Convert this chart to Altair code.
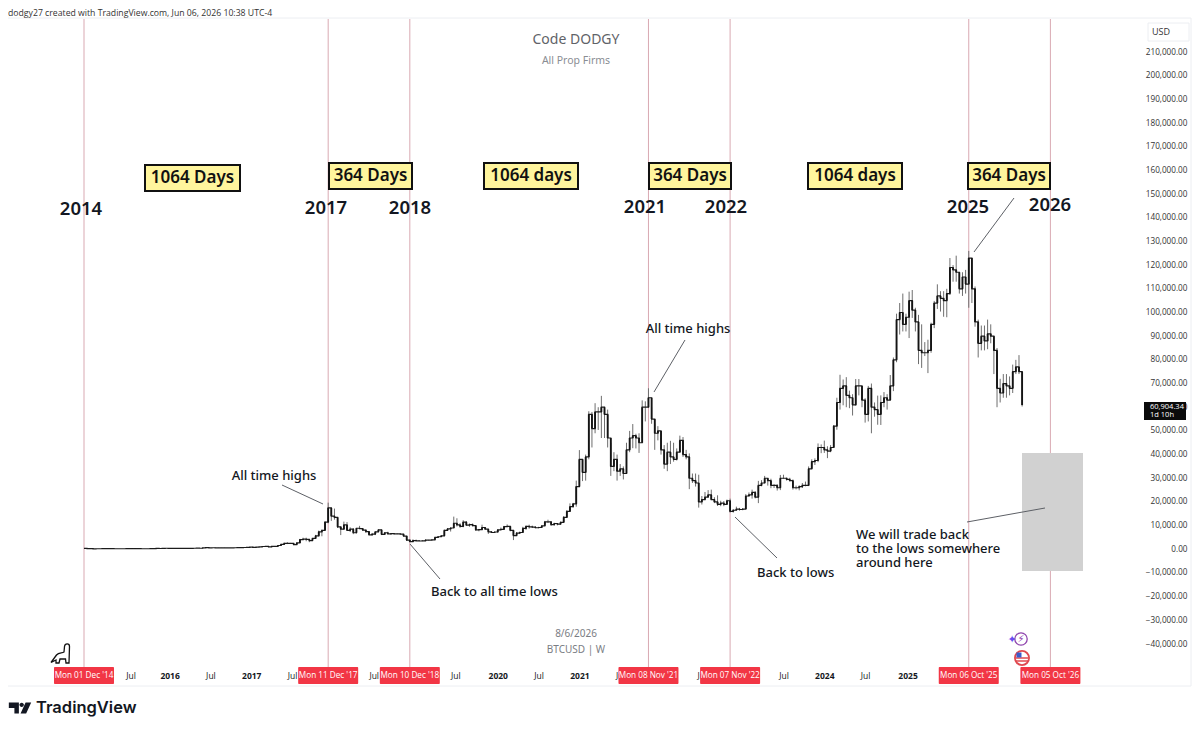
import altair as alt
import pandas as pd

FONT = "Noto Sans"

# Bi-weekly candles, thousand USD
CLOSE = [
 .37,.32,.31,.21,.23,.24,.27,.28,.25,.25,.23,.24,.24,.23,.25,.26,.29,.28,.26,.23,.23,.23,.25,.28,.38,.33,.36,.45,.43,
 .38,.39,.40,.43,.41,.42,.42,.45,.46,.44,.58,.68,.64,.66,.60,.58,.58,.60,.60,.61,.65,.70,.73,.76,.78,.95,
 .82,.92,1.0,1.18,1.2,1.0,1.2,1.25,1.6,2.1,2.5,2.5,2.5,2.0,2.7,4.1,4.3,4.2,3.7,4.6,5.7,7.4,8.0,11.5,17.5,14.0,
 13.5,9.5,8.5,10.3,8.0,8.5,7.0,8.9,8.7,8.1,7.5,6.1,6.4,7.4,8.2,6.3,7.0,6.5,6.6,6.5,6.5,6.4,5.6,3.9,3.2,3.7,
 3.6,3.5,3.6,3.9,3.9,4.0,5.0,5.3,5.7,8.0,8.6,9.0,11.0,10.3,9.7,11.5,10.2,10.4,10.0,8.2,8.3,9.2,8.5,7.4,7.1,7.3,
 8.2,8.4,9.6,9.7,8.0,5.8,6.8,7.1,8.8,9.7,9.5,9.4,9.1,9.2,9.9,11.6,11.6,10.4,10.9,10.6,11.4,13.5,16.0,18.0,19.2,26.5,
 38,32.5,39,57,51,58,58,60,57,47,35,38,33,34,32,42,47,48,47,45,60,60,64,55,49,50,
 42,36,41,39,38,41,46,40,39,30,29,28,20,21,22,23,21,20,19,19.5,19,20.5,16,16.5,17,16.8,
 17,22.5,23,24,22,27,28,30,29,27,27,26,30,30,29.5,29,26,26,26.5,27,27,34,37,37.5,43,43,
 42,41.5,43,52,62,68,69,65,64,61,69,69,63,57,68,60,59,57,62,64,63,69,80,97,100,95,98,
 105,101,96,84,83,83,84,95,104,107,106,105,108,119,118,117,110,115,112,123,110,96,87,90,88,91,
 90,84,68,66,70,69,68,75,77,75,60.904,
]
HIGH = [
 .38,.38,.33,.30,.27,.26,.30,.30,.30,.26,.24,.25,.25,.24,.26,.27,.31,.30,.28,.26,.25,.24,.26,.29,.48,.38,.38,.47,.47,
 .46,.42,.41,.45,.44,.43,.43,.46,.47,.46,.58,.77,.70,.68,.68,.60,.59,.62,.61,.62,.66,.74,.75,.78,.80,.98,
 1.15,.95,1.05,1.2,1.3,1.3,1.25,1.3,1.7,2.3,2.8,3.0,2.7,2.6,2.9,4.4,4.9,4.9,4.2,4.7,6.1,7.9,8.3,11.9,19.7,16.5,
 17.2,13.6,9.5,11.7,11.5,9.3,8.9,9.0,9.9,9.0,8.4,7.7,6.9,7.5,8.5,8.3,7.2,7.4,6.8,6.7,6.7,6.6,6.5,5.7,4.2,4.2,
 4.1,3.7,3.7,4.2,4.0,4.1,5.2,5.6,5.9,8.3,9.0,9.3,13.8,13.1,11.0,12.3,11.9,10.9,10.9,10.1,8.6,10.4,9.4,8.5,7.7,7.5,
 8.5,9.2,9.9,10.5,9.7,8.0,7.3,7.5,9.5,10.0,10.4,10.0,9.7,9.5,10.0,12.0,12.5,11.9,11.2,11.0,11.7,14.0,16.5,19.4,19.6,29.0,
 41.9,38,40,58.3,58,61.7,60,64.8,58,59,45,41,40,36,35,45,50,52.9,48.8,49,62.9,62.5,68,60,53,52,
 47,44,45,45.8,45,42.6,48,47.4,42,40.5,32,32,31.5,22.5,24.2,25,25.2,22,22.8,20.5,20.4,21,21.4,17,18,17.5,
 17.4,23.3,24,25.2,24.5,28.9,29.2,31,30,29.8,27.5,27.4,31.4,31.5,30.3,30.2,29.5,26.9,27,28,28.6,35,38,38.4,44.7,44.3,
 45.9,43.5,44,52.5,64,73.7,71.7,72.7,67,65.5,71.9,71.9,67,63.8,69,70,62,64.9,65,66.4,65.5,73.6,81,99.5,104,108,99.5,
 108.8,109.5,102,99,95,87.5,88.5,95.7,104.9,111.9,109,109,110,123,120,124,114,117,118,126,116,111,97,94.5,94.5,97,
 95,90,85,72,74,74,73,78,80,82,74,
]
LOW = [
 .33,.30,.28,.17,.20,.21,.23,.26,.24,.23,.22,.22,.23,.22,.22,.25,.26,.27,.25,.20,.22,.22,.23,.25,.28,.31,.32,.36,.41,
 .36,.36,.36,.39,.40,.40,.41,.41,.44,.43,.44,.56,.55,.63,.58,.55,.55,.56,.59,.59,.60,.63,.69,.72,.75,.78,
 .75,.78,.9,1.0,1.1,.9,.9,1.15,1.25,1.6,2.0,2.2,2.3,1.8,1.9,2.7,3.9,3.4,3.0,3.7,4.5,5.4,5.5,8.0,11.0,12.0,
 12.5,9.0,6.0,8.3,8.0,7.3,6.4,6.7,8.6,7.9,7.0,6.0,5.8,6.0,7.3,6.0,6.1,6.3,6.1,6.3,6.4,6.3,5.5,3.5,3.1,3.1,
 3.5,3.4,3.4,3.6,3.7,3.8,4.0,5.0,5.2,5.6,7.9,7.5,9.0,9.6,9.1,9.3,9.9,9.5,9.7,7.8,7.6,8.2,8.3,6.5,7.0,6.9,
 6.9,8.2,9.0,9.4,7.6,3.9,5.6,6.5,7.0,8.2,8.7,9.0,8.9,8.9,9.0,10.6,11.1,9.9,10.0,10.1,10.4,11.3,13.2,16.0,17.6,18.0,
 27.7,28.8,29,38,43,49,50.4,47,47,43,31,33,29,31,29.5,33,41,42.7,42.6,40.7,47,54,60,53,42,46,
 40,34,33,36,37,37.5,41,39,38,25.4,28,26.5,17.6,18.9,20.8,22,20.8,19.5,18.3,18.2,18.2,18.8,15.5,15.5,16.7,16.3,
 16.5,17,22.3,21.4,21.5,19.5,26.6,27.8,26.9,25.8,25.9,24.8,25,29.8,29,28.7,25.2,25.3,24.9,25.9,26.6,26.7,34,35.6,36.8,40.6,
 40.7,38.5,41,42.8,50.5,59,60.8,60,59.6,56.5,60.7,65,60,53.5,54,49,56,52.6,52.5,60,59,65,66.8,79,90.7,92,92,
 89.2,97.7,92,78.2,76.6,81.6,74.4,83,93.4,101.5,100.4,98.2,98,107.5,113,113,108,107,108,102,104,94,81,84,84,84.5,
 87,74,60,62,64,64,65,66,74,74,60.3,
]
assert len(CLOSE) == len(HIGH) == len(LOW) == 301

TAG_DATES = ["2014-12-01", "2017-12-11", "2018-12-10", "2021-11-08", "2022-11-07", "2025-10-06", "2026-10-05"]
TAG_LABELS = ["Mon 01 Dec '14", "Mon 11 Dec '17", "Mon 10 Dec '18", "Mon 08 Nov '21",
              "Mon 07 Nov '22", "Mon 06 Oct '25", "Mon 05 Oct '26"]
# Only the ticks the picture shows: the others lie under the red date tags
TICK_DATES = ["2015-07-06", "2016-01-04", "2016-07-04", "2017-01-02", "2017-07-03", "2018-07-02",
              "2019-07-01", "2020-01-06", "2020-07-06", "2021-01-04", "2021-07-05",
              "2022-07-04", "2023-07-03", "2024-01-01", "2024-07-01", "2025-01-06", "2027-07-05"]
PRICE_TICKS = list(range(-40000, 210001, 10000))


def ms(d):
    return int(pd.Timestamp(d, tz="UTC").timestamp() * 1000)


W, H = 1138, 648
LEFT, TOP = 8, 19
dates = pd.date_range("2014-12-01", periods=301, freq="14D", tz="UTC")
opens = [CLOSE[0]] + CLOSE[:-1]
df = pd.DataFrame({
    "t": [int(d.timestamp() * 1000) for d in dates],
    "open": [v * 1000 for v in opens],
    "close": [v * 1000 for v in CLOSE],
    "high": [v * 1000 for v in HIGH],
    "low": [v * 1000 for v in LOW],
})
tags = pd.DataFrame({"t": [ms(d) for d in TAG_DATES], "label": TAG_LABELS})

x_scale = alt.Scale(domain=[ms("2014-12-01"), ms("2016-01-04"), ms("2026-10-05")],
                    range=[84 - LEFT, 169.6 - LEFT, 1050.4 - LEFT], zero=False, nice=False)
y_scale = alt.Scale(domain=[-49704, 223944], nice=False, zero=False)

x_axis = alt.Axis(values=[ms(d) for d in TICK_DATES], title=None, grid=False, domain=False, ticks=False,
                  labelExpr="utcmonth(datum.value)==0 ? utcyear(datum.value) : 'Jul'",
                  labelFontSize=8.5, labelColor="#131722", labelFont="Open Sans", labelPadding=4,
                  labelOverlap=False, labelFlush=False, labelBound=False,
                  labelFontWeight={"condition": {"test": "utcmonth(datum.value)==0", "value": "bold"}, "value": "normal"})
y_axis = alt.Axis(values=PRICE_TICKS, orient="right", title=None, grid=False, domain=False, ticks=False,
                  format=",.2f", labelFontSize=8.2, labelColor="#333333", labelFont="Open Sans",
                  labelAlign="right", labelPadding=41, labelOverlap=False, labelBound=False, labelFlush=False)

one = alt.Data(values=[{"a": 1}])


def px(x, y):
    return {"x": alt.value(x - LEFT), "y": alt.value(y - TOP)}


def txt(s, x, y, size, weight="normal", color="#131722", align="center", font=FONT):
    return alt.Chart(one).mark_text(text=s, fontSize=size, fontWeight=weight, color=color, align=align,
                                    baseline="middle", font=font).encode(**px(x, y))


def line(x1, y1, x2, y2, color="#5d6066", sw=1):
    return alt.Chart(one).mark_rule(color=color, strokeWidth=sw).encode(
        x=alt.value(x1 - LEFT), y=alt.value(y1 - TOP), x2=alt.value(x2 - LEFT), y2=alt.value(y2 - TOP))


def box(x1, y1, x2, y2, fill, stroke=None, sw=0):
    kw = {"stroke": stroke, "strokeWidth": sw} if stroke else {}
    return alt.Chart(one).mark_rect(color=fill, **kw).encode(
        x=alt.value(x1 - LEFT), y=alt.value(y1 - TOP), x2=alt.value(x2 - LEFT), y2=alt.value(y2 - TOP))


def yellow(s, x1, y1, x2, y2):
    return box(x1, y1, x2, y2, "#fff59d", "#111111", 2) + txt(s, (x1 + x2) / 2, (y1 + y2) / 2, 17, 600, "#111111")


def icon(path, x, y, size, fill=None, stroke=None, sw=1.5):
    kw = {"filled": fill is not None}
    if fill:
        kw["fill"] = fill
    kw["stroke"] = stroke if stroke else "transparent"
    return alt.Chart(one).mark_point(shape=path, size=size, strokeWidth=sw, opacity=1, **kw).encode(**px(x, y))


frame_color = "#eceef2"
frame = [line(7, 18, 1191, 18, frame_color), line(7, 686, 1191, 686, frame_color),
         line(7, 18, 7, 686, frame_color), line(1191, 18, 1191, 686, frame_color),
         line(1148, 23, 1189, 23, frame_color), line(1148, 41, 1189, 41, frame_color),
         line(1148, 23, 1148, 41, frame_color), line(1189, 23, 1189, 41, frame_color)]

X_ENC = alt.X("t:Q", scale=x_scale, axis=x_axis)
wick = alt.Chart(df).mark_rule(color="#6e6e6e", strokeWidth=1).encode(
    x=X_ENC,
    y=alt.Y("low:Q", scale=y_scale, axis=y_axis),
    y2="high:Q",
)
close_line = alt.Chart(df).mark_line(color="#1c1c1c", strokeWidth=1.2, interpolate="step-after").encode(
    x=X_ENC, y=alt.Y("close:Q", scale=y_scale, axis=y_axis))
body = alt.Chart(df).mark_rule(color="#141414", strokeWidth=1.8).encode(
    x=X_ENC,
    y=alt.Y("open:Q", scale=y_scale, axis=y_axis),
    y2="close:Q",
)
vlines = alt.Chart(tags).mark_rule(color="#d9a9b2", strokeWidth=1).encode(x=X_ENC)
tag_rect = alt.Chart(tags).mark_rect(color="#f23645", width=60, height=17, cornerRadius=1).encode(
    x=X_ENC, y=alt.value(675.5 - TOP))
tag_text = alt.Chart(tags).mark_text(color="#ffffff", fontSize=8.2, font="Open Sans", baseline="middle").encode(
    x=X_ENC, y=alt.value(675.5 - TOP), text="label:N")

dino = ("M-1,0.85 L-0.45,0.1 C-0.2,-0.2 0.1,-0.05 0.3,-0.2 L0.35,-0.75 C0.4,-1.1 0.85,-1.1 0.85,-0.75 "
        "L0.8,0.9 L0.5,0.9 L0.45,0.5 L-0.1,0.5 L-0.2,0.9 L-0.5,0.9 L-0.5,0.6 Z")
logo = ("M-1,-0.5 L-0.1,-0.5 L-0.1,0.5 L-0.5,0.5 L-0.5,0 L-1,0 Z "
        "M-0.05,-0.28 A0.2,0.2 0 1,0 0.35,-0.28 A0.2,0.2 0 1,0 -0.05,-0.28 Z "
        "M0.5,-0.5 L1,-0.5 L0.55,0.5 L0.05,0.5 Z")

layers = frame + [
    vlines, wick, close_line, body,
    txt("dodgy27 created with TradingView.com, Jun 06, 2026 10:38 UTC-4", 8, 13, 8.7, align="left", color="#333333", font="Open Sans"),
    txt("Code DODGY", 576, 40, 14, color="#5f6368"),
    txt("All Prop Firms", 576, 61, 10.5, color="#8a8d93"),
    txt("8/6/2026", 576, 634, 10, color="#7a7d83"),
    txt("BTCUSD | W", 576, 650, 10, color="#7a7d83"),
    txt("USD", 1161, 32, 9, color="#333333", font="Open Sans"),
    yellow("1064 Days", 145, 165, 240, 191),
    yellow("364 Days", 329, 163, 412, 189),
    yellow("1064 days", 484, 163, 578, 189),
    yellow("364 Days", 649, 163, 731, 189),
    yellow("1064 days", 808, 163, 902, 189),
    yellow("364 Days", 968, 163, 1050, 189),
    txt("2014", 81, 209, 18.5, 600), txt("2017", 326, 208, 18.5, 600), txt("2018", 410, 208, 18.5, 600),
    txt("2021", 645, 207, 18.5, 600), txt("2022", 726, 207, 18.5, 600), txt("2025", 968, 207, 18.5, 600),
    txt("2026", 1050, 205, 18.5, 600),
    txt("All time highs", 274, 476, 13, 500),
    txt("All time highs", 688, 329, 13, 500),
    txt("Back to all time lows", 431, 592, 13, 500, align="left"),
    txt("Back to lows", 757, 573, 13, 500, align="left"),
    txt("We will trade back", 856, 535, 13, 500, align="left"),
    txt("to the lows somewhere", 856, 549, 13, 500, align="left"),
    txt("around here", 856, 563, 13, 500, align="left"),
    box(1022, 453, 1083, 571, "#d1d1d1"),
    line(282, 485, 323, 504), line(410, 544, 440, 579), line(654, 392, 685, 340),
    line(735, 517, 777, 558), line(974, 252, 1014, 198), line(967, 522, 1045, 508),
    box(1144, 402, 1186, 420, "#0b0b0b"),
    txt("60,904.34", 1150, 406.5, 7.5, color="#ffffff", font="Open Sans", align="left"),
    txt("1d 10h", 1150, 415, 7.5, color="#ffffff", font="Open Sans", align="left"),
    tag_rect, tag_text,
    icon(dino, 61, 654, 400, stroke="#111111", fill="#ffffff", sw=1.3),
    icon("circle", 1021, 639, 154, stroke="#8e44ad", sw=1.3),
    txt("⚡", 1021, 639, 10, color="#8e44ad", font="DejaVu Sans"),
    txt("✦", 1012, 640, 11, color="#6a4cf0", font="DejaVu Sans"),
    icon("circle", 1022, 658, 200, stroke="#e0484f", fill="#ffffff", sw=1.8),
    line(1016, 658, 1028, 658, "#e0484f", 1.5),
    line(1016, 661, 1028, 661, "#e0484f", 1.5),
    icon("square", 1019, 655, 25, fill="#3d5ac8"),
    icon(logo, 20, 708, 500, fill="#131722"),
    txt("TradingView", 36, 708, 16.5, 600, align="left", font="Inter"),
]

chart = alt.layer(*layers).properties(
    width=W, height=H,
    autosize=alt.AutoSizeParams(type="none"),
    padding={"left": 0, "top": 11, "right": 46, "bottom": 55},
    background="#ffffff",
).configure_view(stroke=None)

chart.save("out.html", embed_options={"renderer": "svg", "actions": False})
